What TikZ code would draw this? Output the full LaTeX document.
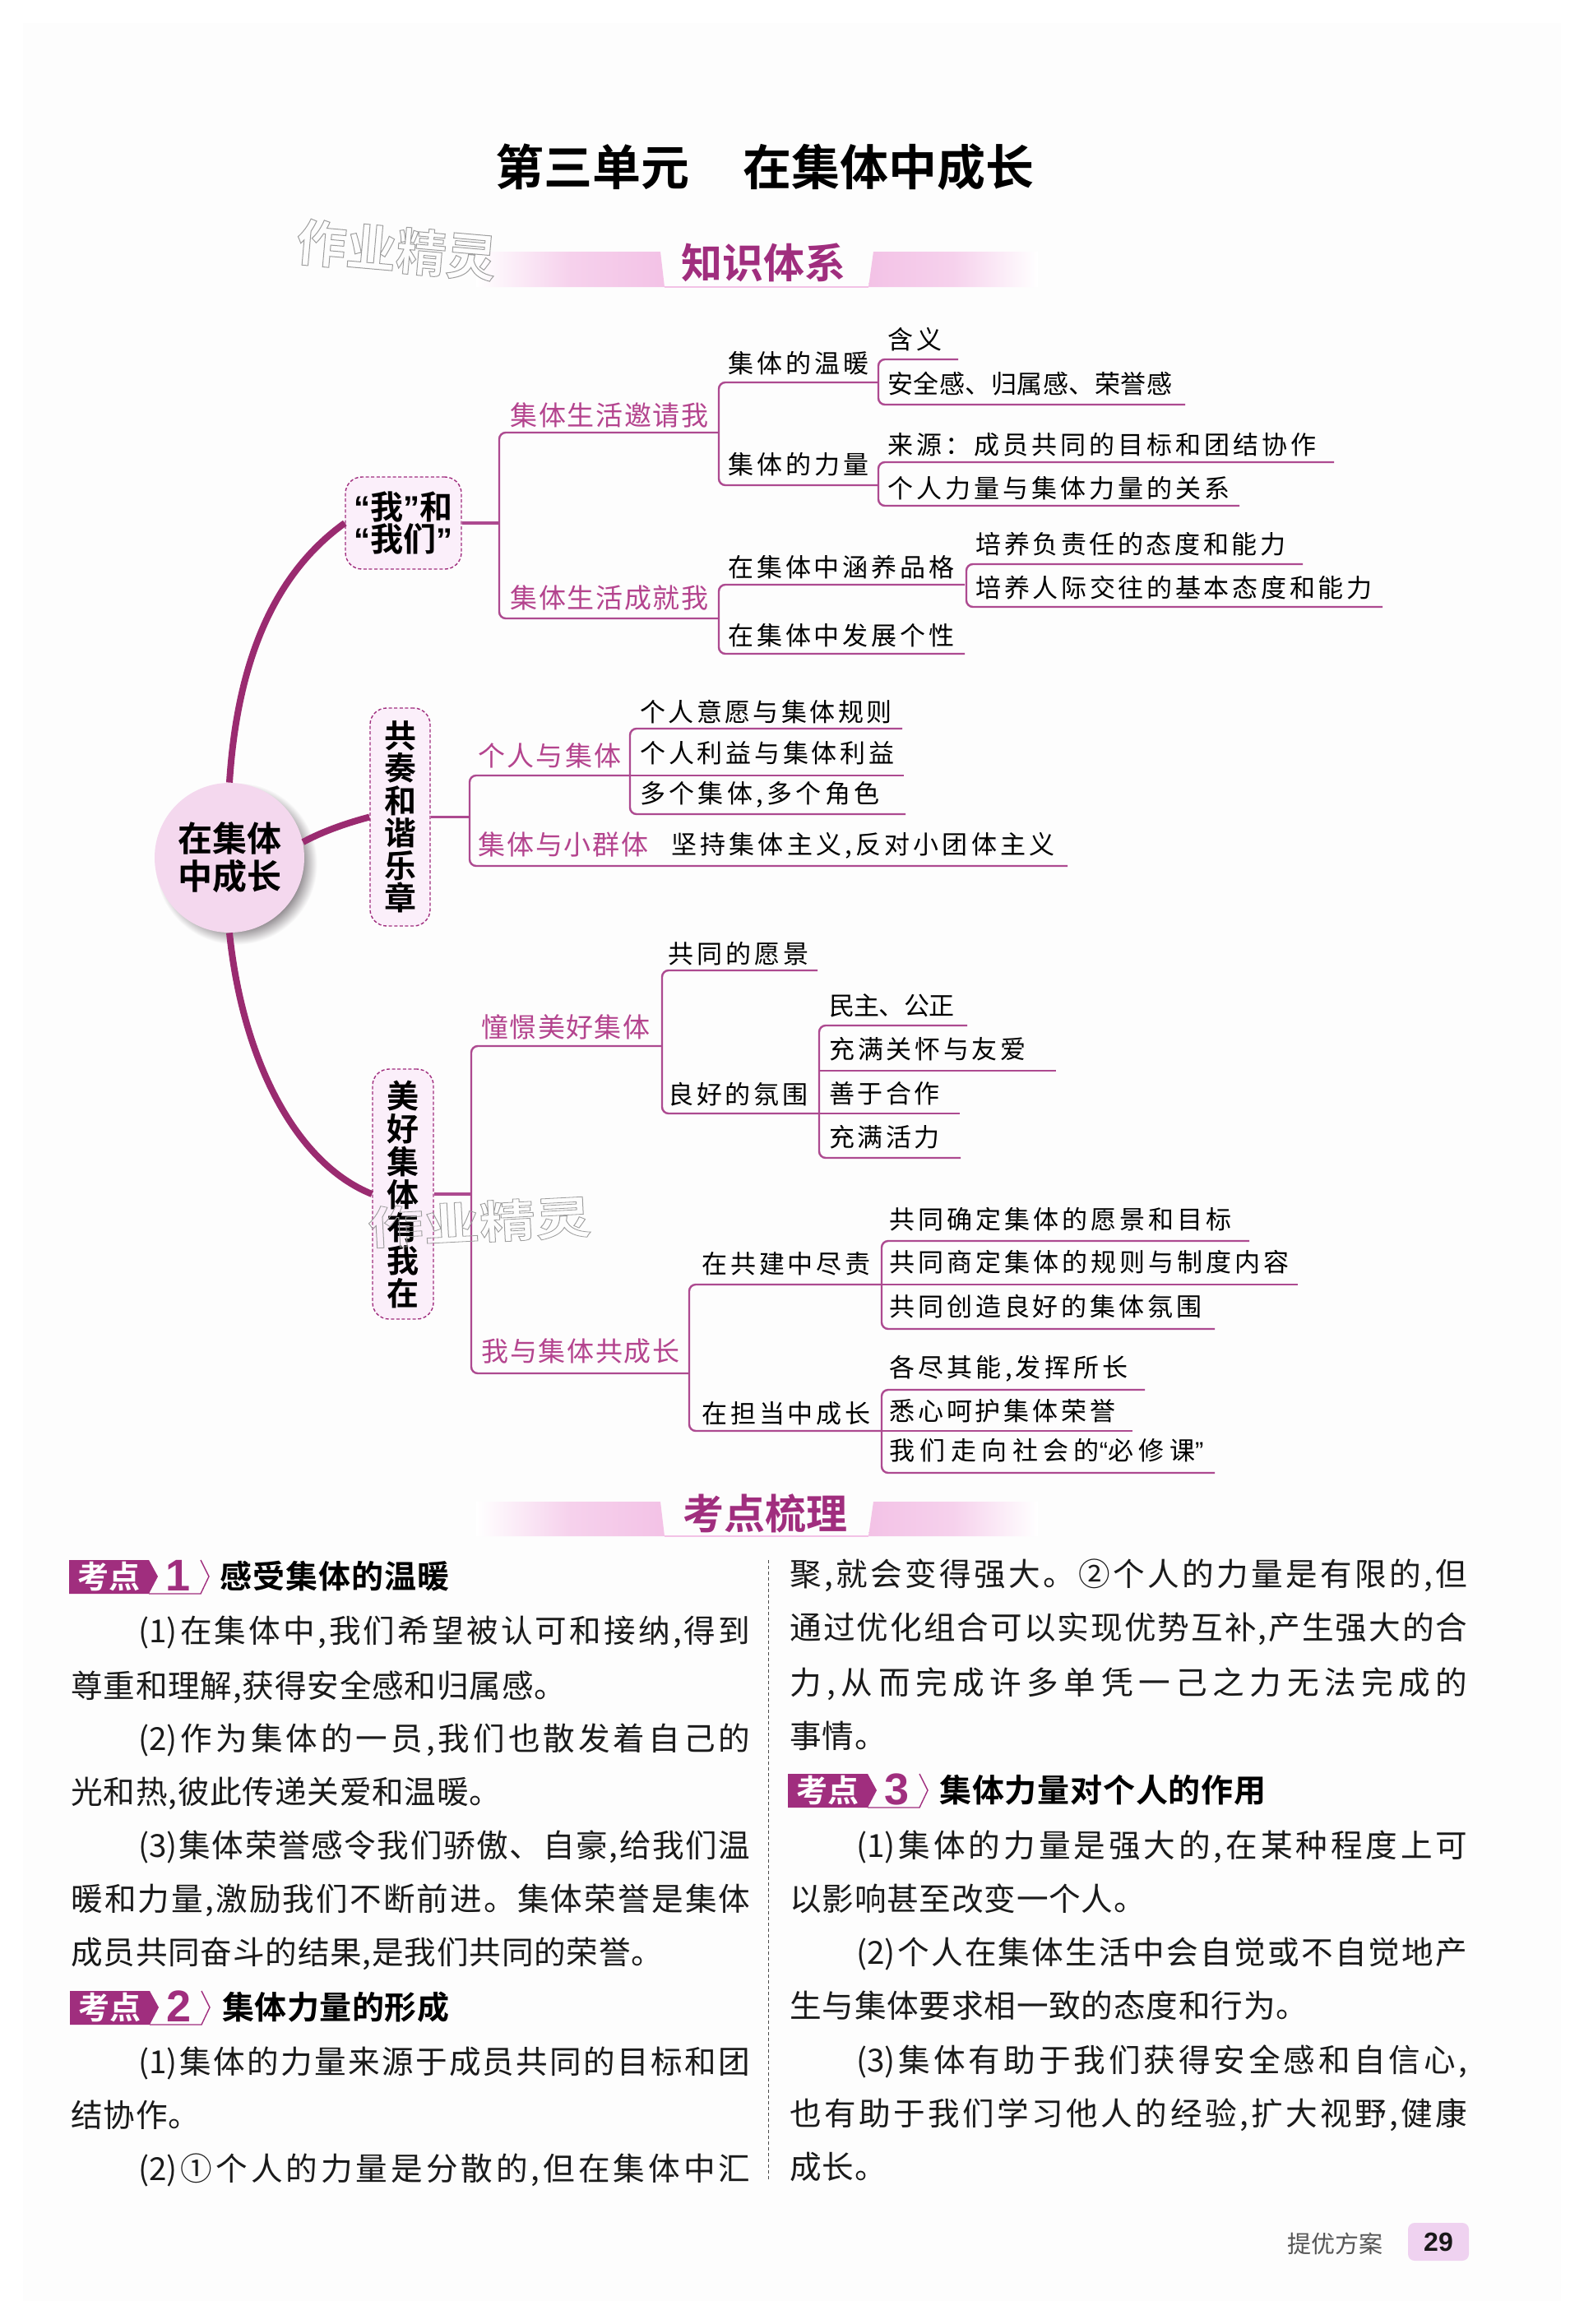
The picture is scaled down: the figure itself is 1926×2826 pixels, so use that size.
\documentclass[tikz,border=0pt]{standalone}
\usepackage{fontspec}
\usetikzlibrary{shapes.geometric}
\setmainfont{Noto Sans CJK SC}[BoldFont=* Bold]
\newfontfamily\numfont{Liberation Sans}[BoldFont=* Bold]
\definecolor{magtext}{HTML}{B4448E}
\definecolor{linec}{HTML}{AD4A90}
\definecolor{thick}{HTML}{9A2B70}
\definecolor{titlec}{HTML}{A02E7E}
\definecolor{bandp}{HTML}{F3C2E6}
\definecolor{boxp}{HTML}{FBEFFA}
\definecolor{circp}{HTML}{F4D8EE}
\definecolor{shadowc}{HTML}{8F8A8E}
\definecolor{bodyc}{HTML}{1A1A1A}
\definecolor{footc}{HTML}{555555}
\definecolor{pagec}{HTML}{FDFDFD}
\definecolor{pgfill}{HTML}{EFD2F0}
\newdimen\px \px=0.5pt
\newdimen\cjkgap \cjkgap=0pt
% inter-character glue, so each line can take the printed width
\XeTeXinterchartokenstate=1
\newXeTeXintercharclass\cjkc
\newcount\cc
\cc="4E00 \loop \XeTeXcharclass\cc=\cjkc \advance\cc by 1 \ifnum\cc<"A000 \repeat
\cc="3000 \loop \XeTeXcharclass\cc=\cjkc \advance\cc by 1 \ifnum\cc<"3020 \repeat
\XeTeXcharclass"2460=\cjkc \XeTeXcharclass"2461=\cjkc \XeTeXcharclass"FF1A=\cjkc
\let\cjkglue\relax
\def\cjkspread{\hskip\cjkgap plus 1fil minus 2pt\relax}
\def\cjknat{\hskip\cjkgap\relax}
\XeTeXinterchartoks\cjkc\cjkc={\cjkglue}
\XeTeXinterchartoks 0 \cjkc={\cjkglue}
\XeTeXinterchartoks\cjkc 0 ={\cjkglue}
\newcommand\qo{{\numfont “}}
\newcommand\qc{{\numfont ”}}
\pgfdeclareradialshading{softshadow}{\pgfpointorigin}{color(0bp)=(shadowc); color(20bp)=(shadowc); color(25bp)=(white); color(50bp)=(white)}
\tikzset{
  blk/.style={inner sep=0pt,text=black,font=\fontsize{15.5}{18}\selectfont,text height=13.5pt,text depth=2pt},
  mag/.style={inner sep=0pt,text=magtext,font=\fontsize{16.5}{18}\selectfont,text height=14.5pt,text depth=2pt},
  bodyt/.style={inner sep=0pt,text=bodyc,font=\fontsize{19.3}{20}\selectfont,text height=16.5pt,text depth=1.2pt},
  headt/.style={inner sep=0pt,text=black,font=\bfseries\fontsize{19.5}{20}\selectfont,text height=16.5pt,text depth=2.5pt},
  branch/.style={draw=linec,line width=1.2pt,rounded corners=4pt},
  stem/.style={draw=linec,line width=1.6pt},
  limb/.style={draw=thick,line width=4pt},
  dashbox/.style={draw=titlec,fill=boxp,line width=.7pt,dash pattern=on 2pt off 1.3pt,rounded corners=10pt,inner sep=0pt,align=center,font=\bfseries\fontsize{20}{19.5}\selectfont},
  sectt/.style={inner sep=0pt,text=titlec,font=\bfseries\fontsize{25}{26}\selectfont},
  badge/.style={draw=none,fill=titlec},
  wmark/.style={inner sep=0pt,font=\bfseries},
}
\newcommand\lab[6][blk]{\node[#1,anchor=west] (#2) at (#3,#4) {\let\cjkglue\cjkspread\hbox to #5\px{#6}};}
\newcommand\nat[5][bodyt]{\node[#1,anchor=west] (#2) at (#3,#4) {\cjkgap=.4pt\let\cjkglue\cjknat #5};}
\newcommand\bracket[6]{%
  \coordinate (#1tr) at (#4,#3); \coordinate (#1tl) at (#2,#3);
  \coordinate (#1bl) at (#2,#5); \coordinate (#1br) at (#6,#5);
  \draw[branch] (#1tr) -- (#1tl) -- (#1bl) -- (#1br);}
\newcommand\under[4]{%
  \coordinate (#1l) at (#2,#3); \coordinate (#1r) at (#4,#3);
  \draw[branch] (#1l) -- (#1r);}
\newcommand\kaodian[7]{% name,x,y,num,labelx,labelw,text
  \coordinate (#1a) at (#2,#3-20); \coordinate (#1b) at (#2+97,#3-20);
  \coordinate (#1c) at (#2+108,#3); \coordinate (#1d) at (#2+97,#3+21);
  \coordinate (#1e) at (#2,#3+21);
  \fill[badge] (#1a) -- (#1b) -- (#1c) -- (#1d) -- (#1e) -- cycle;
  \node[inner sep=0pt,text=white,font=\bfseries\fontsize{19}{19}\selectfont] (#1k) at (#2+48,#3) {考点};
  \node[inner sep=0pt,text=titlec,font=\numfont\bfseries\fontsize{27}{28}\selectfont] (#1n) at (#2+133,#3-1) {#4};
  \coordinate (#1f) at (#2+160,#3-20); \coordinate (#1g) at (#2+170,#3);
  \coordinate (#1h) at (#2+160,#3+21);
  \draw[draw=titlec,line width=.7pt] (#1f) -- (#1g) -- (#1h) -- (#1d);
  \lab[headt]{#1t}{#5}{#3}{#6}{#7}}
\newcommand\band[3]{% y top, y bottom, name
  \coordinate (#3a) at (579,#1); \coordinate (#3b) at (803,#1);
  \coordinate (#3c) at (808,#2); \coordinate (#3d) at (579,#2);
  \coordinate (#3e) at (1062,#1); \coordinate (#3f) at (1262,#1);
  \coordinate (#3g) at (1262,#2); \coordinate (#3h) at (1056,#2);
  \shade[left color=white,right color=bandp,middle color=bandp!75] (#3a) -- (#3b) -- (#3c) -- (#3d) -- cycle;
  \shade[right color=white,left color=bandp,middle color=bandp!75] (#3e) -- (#3f) -- (#3g) -- (#3h) -- cycle;
  \draw[draw=bandp,line width=1pt] (#3c) -- (#3h);}
\begin{document}
\begin{tikzpicture}[x=.5pt,y=-.5pt]
\useasboundingbox (0,0) rectangle (1926,2826);
\fill[white] (0,0) rectangle (1926,2826);
\fill[pagec] (28,28) rectangle (1898,2798);
% title
\node[inner sep=0pt,font=\bfseries\fontsize{29.5}{30}\selectfont] (title) at (930,203) {第三单元\hspace{33pt}在集体中成长};
% section band 1
\band{306}{349}{ba}
\node[sectt] (s1) at (928,319) {知识体系};
\node[wmark,rotate=-5,text=black!25,font=\bfseries\fontsize{30.5}{31}\selectfont] (wm1) at (482,304) {\special{pdf:code 1 Tr 0.5 w 0.62 G}作业精灵\special{pdf:code 0 Tr}};
% central node and shadow
\coordinate (shc) at (287,1050);
\shade[shading=softshadow] (shc) circle (99);
\node[circle,fill=circp,minimum size=91pt,inner sep=0pt,align=center,font=\bfseries\fontsize{21}{23}\selectfont] (c) at (279,1043) {在集体\\中成长};
% three boxes
\node[dashbox,minimum width=70.5pt,minimum height=56pt] (A) at (490.5,636) {\qo 我\qc 和\\\qo 我们\qc};
\node[dashbox,minimum width=36.5pt,minimum height=132.5pt,font=\bfseries\fontsize{19.5}{19.75}\selectfont] (B) at (486.5,993.5) {共\\奏\\和\\谐\\乐\\章};
\node[dashbox,minimum width=37pt,minimum height=152pt,font=\bfseries\fontsize{19.5}{20}\selectfont] (C) at (490,1452) {美\\好\\集\\体\\有\\我\\在};
% limbs
\draw[limb] (c.north) .. controls (288,810) and (330,700) .. (A.west);
\draw[limb] (c.12) .. controls (385,1015) and (410,1004) .. (B.west);
\draw[limb] (c.south) .. controls (295,1290) and (360,1415) .. (C.west);
% group A
\bracket{a}{607}{526}{874}{752}{874}
\coordinate (asp) at (607,636);
\draw[stem] (A.east) -- (asp);
\lab[mag]{a1}{620}{505}{241}{集体生活邀请我}
\lab[mag]{a2}{620}{727}{241}{集体生活成就我}
\bracket{aa}{874}{465}{1068}{590}{1068}
\lab{a11}{885}{442}{171}{集体的温暖}
\lab{a12}{885}{565}{171}{集体的力量}
\bracket{ab}{1068}{437}{1165}{492}{1441}
\lab{a111}{1079}{413}{66}{含义}
\lab{a112}{1079}{467}{346}{安全感、归属感、荣誉感}
\bracket{ac}{1068}{562}{1622}{615}{1507}
\lab{a121}{1079}{541}{521}{来源：成员共同的目标和团结协作}
\lab{a122}{1079}{594}{416}{个人力量与集体力量的关系}
\bracket{ad}{874}{711}{1173}{795}{1173}
\lab{a21}{885}{690}{275}{在集体中涵养品格}
\lab{a22}{885}{773}{275}{在集体中发展个性}
\bracket{ae}{1175}{686}{1584}{738}{1681}
\lab{a211}{1186}{662}{377}{培养负责任的态度和能力}
\lab{a212}{1186}{715}{482}{培养人际交往的基本态度和能力}
% group B
\bracket{b}{571}{943}{766}{1053}{1298}
\coordinate (bsp) at (571,993.5);
\draw[stem] (B.east) -- (bsp);
\lab[mag]{b1}{581}{919}{174}{个人与集体}
\lab[mag]{b2}{581}{1027}{207}{集体与小群体}
\lab{b21}{816}{1027}{466}{坚持集体主义,反对小团体主义}
\bracket{ba}{766}{886}{1097}{990}{1101}
\under{bm}{766}{943}{1099}
\lab{b11}{778}{866}{306}{个人意愿与集体规则}
\lab{b12}{778}{916}{309}{个人利益与集体利益}
\lab{b13}{778}{965}{291}{多个集体,多个角色}
% group C
\bracket{cc}{573}{1272}{805}{1670}{838}
\coordinate (csp) at (573,1452);
\draw[stem] (C.east) -- (csp);
\lab[mag]{c1}{585}{1249}{205}{憧憬美好集体}
\lab[mag]{c2}{585}{1643}{241}{我与集体共成长}
\bracket{ca}{805}{1180}{994}{1354}{996}
\lab{c11}{812}{1160}{171}{共同的愿景}
\lab{c12}{812}{1331}{170}{良好的氛围}
\bracket{cb}{996}{1247}{1176}{1408}{1168}
\under{cbm}{996}{1302}{1284}
\under{cbn}{996}{1354}{1167}
\lab{c121}{1008}{1223}{152}{民主、公正}
\lab{c122}{1008}{1276}{239}{充满关怀与友爱}
\lab{c123}{1008}{1330}{134}{善于合作}
\lab{c124}{1008}{1383}{134}{充满活力}
\bracket{cd}{838}{1562}{1072}{1740}{1072}
\lab{c21}{853}{1537}{205}{在共建中尽责}
\lab{c22}{853}{1719}{205}{在担当中成长}
\bracket{ce}{1072}{1509}{1519}{1616}{1477}
\under{cem}{1072}{1562}{1578}
\lab{c211}{1081}{1483}{416}{共同确定集体的愿景和目标}
\lab{c212}{1081}{1535}{486}{共同商定集体的规则与制度内容}
\lab{c213}{1081}{1589}{380}{共同创造良好的集体氛围}
\bracket{cf}{1072}{1690}{1392}{1791}{1477}
\under{cfm}{1072}{1740}{1377}
\lab{c221}{1081}{1663}{290}{各尽其能,发挥所长}
\lab{c222}{1081}{1716}{275}{悉心呵护集体荣誉}
\lab{c223}{1081}{1764}{382}{我们走向社会的\qo 必修课\qc}
% second watermark
\node[wmark,rotate=3,text=black!25,font=\bfseries\fontsize{34}{34}\selectfont,yscale=.8] (wm2) at (583,1486) {\special{pdf:code 1 Tr 0.5 w 0.62 G}作业精灵\special{pdf:code 0 Tr}};
% section band 2
\band{1826}{1868}{bb}
\node[sectt] (s2) at (930,1840) {考点梳理};
% column divider
\coordinate (dv1) at (934,1897); \coordinate (dv2) at (934,2652);
\draw[black!70,line width=.4pt,dash pattern=on 2pt off 1.5pt] (dv1) -- (dv2);
% left column
\kaodian{k1}{84}{1917}{1}{267}{279}{感受集体的温暖}
\lab[bodyt]{l1}{168}{1982}{744}{(1)在集体中,我们希望被认可和接纳,得到}
\nat{l2}{86}{2049}{尊重和理解,获得安全感和归属感。}
\lab[bodyt]{l3}{168}{2113}{744}{(2)作为集体的一员,我们也散发着自己的}
\nat{l4}{86}{2178}{光和热,彼此传递关爱和温暖。}
\lab[bodyt]{l5}{168}{2243}{744}{(3)集体荣誉感令我们骄傲、自豪,给我们温}
\lab[bodyt]{l6}{86}{2308}{826}{暖和力量,激励我们不断前进。集体荣誉是集体}
\nat{l7}{86}{2373}{成员共同奋斗的结果,是我们共同的荣誉。}
\kaodian{k2}{85}{2441}{2}{270}{276}{集体力量的形成}
\lab[bodyt]{l8}{168}{2506}{744}{(1)集体的力量来源于成员共同的目标和团}
\nat{l9}{86}{2571}{结协作。}
\lab[bodyt]{l10}{168}{2636}{744}{(2)①个人的力量是分散的,但在集体中汇}
% right column
\lab[bodyt]{r1}{960}{1913}{824}{聚,就会变得强大。②个人的力量是有限的,但}
\lab[bodyt]{r2}{960}{1978}{824}{通过优化组合可以实现优势互补,产生强大的合}
\lab[bodyt]{r3}{960}{2045}{824}{力,从而完成许多单凭一己之力无法完成的}
\nat{r4}{960}{2110}{事情。}
\kaodian{k3}{958}{2177}{3}{1142}{397}{集体力量对个人的作用}
\lab[bodyt]{r5}{1041}{2243}{743}{(1)集体的力量是强大的,在某种程度上可}
\nat{r6}{960}{2308}{以影响甚至改变一个人。}
\lab[bodyt]{r7}{1041}{2373}{743}{(2)个人在集体生活中会自觉或不自觉地产}
\nat{r8}{960}{2438}{生与集体要求相一致的态度和行为。}
\lab[bodyt]{r9}{1041}{2504}{743}{(3)集体有助于我们获得安全感和自信心,}
\lab[bodyt]{r10}{960}{2569}{824}{也有助于我们学习他人的经验,扩大视野,健康}
\nat{r11}{960}{2634}{成长。}
% footer
\node[inner sep=0pt,text=footc,anchor=west,font=\fontsize{14.5}{16}\selectfont] (ft) at (1565,2728) {提优方案};
\node[fill=pgfill,rounded corners=4pt,minimum width=37pt,minimum height=23pt,inner sep=0pt,text=black!90,font=\numfont\bfseries\fontsize{16}{16}\selectfont] (pg) at (1749,2726) {29};
\end{tikzpicture}
\end{document}
